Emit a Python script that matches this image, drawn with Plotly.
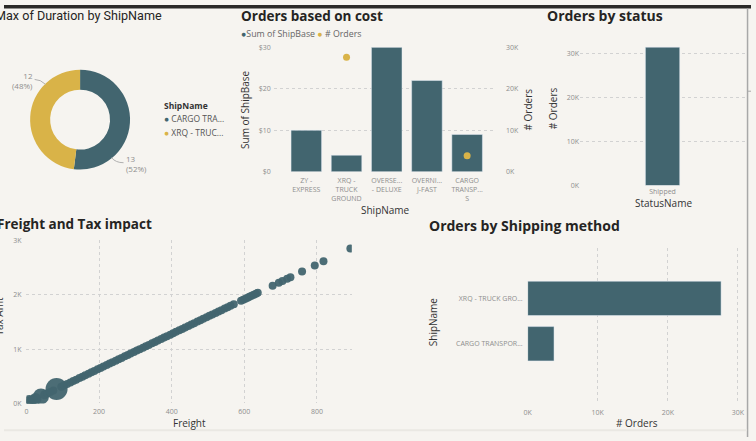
import plotly.graph_objects as go

# ---------------- data ----------------
donut_names = ["CARGO TRANSPORT 5", "XRQ - TRUCK GROUND"]
donut_legend = ["CARGO TRA...", "XRQ - TRUC..."]
donut_values = [13, 12]
donut_share = ["52%", "48%"]

cost_names = ["ZY - EXPRESS", "XRQ - TRUCK GROUND", "OVERSEAS - DELUXE", "OVERNIGHT J-FAST", "CARGO TRANSPORT 5"]
cost_ticks = ["ZY -<br>EXPRESS", "XRQ -<br>TRUCK<br>GROUND", "OVERSE...<br>- DELUXE", "OVERNI...<br>J-FAST", "CARGO<br>TRANSP...<br>S"]
shipbase = [10, 4, 30, 22, 9]
cost_orders = [None, 27600, None, None, 3860]
dollar_vals = [0, 10, 20, 30]
dollar_text = ["$0", "$10", "$20", "$30"]

status_names = ["Shipped"]
status_orders = [31460]

freight = [3, 8, 13, 19, 25, 40, 50, 58, 66, 74, 83, 96, 104, 112, 121, 129, 137, 146, 154, 162,
           171, 179, 187, 196, 204, 212, 221, 229, 237, 246, 254, 262, 271, 279, 287, 296, 304,
           312, 321, 329, 337, 346, 354, 362, 371, 379, 387, 396, 404, 412, 421, 429, 437, 446,
           454, 462, 471, 479, 487, 496, 504, 512, 521, 529, 537, 546, 554, 562, 571, 591, 597,
           603, 609, 614, 620, 626, 632, 637, 678, 695, 705, 718, 727, 759, 794, 818, 892]
tax_amt = [10, 26, 42, 61, 80, 128, 160, 186, 211, 237, 266, 307, 333, 358, 387, 413, 438, 467, 493, 518,
           547, 573, 598, 627, 653, 678, 707, 733, 758, 787, 813, 838, 867, 893, 918, 947, 973,
           998, 1027, 1053, 1078, 1107, 1133, 1158, 1187, 1213, 1238, 1267, 1293, 1318, 1347, 1373, 1398, 1427,
           1453, 1478, 1507, 1533, 1558, 1587, 1613, 1638, 1667, 1693, 1718, 1747, 1773, 1798, 1827, 1891, 1910,
           1930, 1949, 1965, 1984, 2003, 2022, 2038, 2170, 2224, 2256, 2298, 2326, 2429, 2541, 2618, 2854]
bubble_size = [12, 14, 10, 10, 12, 16, 9, 8, 8, 8, 22] + [8] * 76

method_names = ["CARGO TRANSPORT 5", "XRQ - TRUCK GROUND"]
method_ticks = ["CARGO TRANSPOR...", "XRQ - TRUCK GRO..."]
method_orders = [3760, 27600]

k_vals = [0, 10000, 20000, 30000]
k_text = ["0K", "10K", "20K", "30K"]

# ---------------- style ----------------
W, H = 756, 441
BG = "#F6F4F0"
TEAL = "#42656F"
GOLD = "#D9B348"
TICK = "#8E8E8E"
DARK = "#252423"
FONT = "Open Sans"
GRID = "#D2D2D2"


def fx(p):
    return p / W


def fy(p):
    return 1 - p / H


fig = go.Figure()

# donut
fig.add_trace(go.Pie(labels=donut_names, values=donut_values, hole=0.6, sort=False,
                     direction="clockwise", rotation=0, textinfo="none",
                     marker=dict(colors=[TEAL, GOLD]), hoverinfo="label+value",
                     domain=dict(x=[fx(26), fx(128)], y=[fy(168), fy(66)])))

# orders based on cost
fig.add_trace(go.Bar(x=cost_names, y=shipbase, marker_color=TEAL, width=0.76,
                     xaxis="x", yaxis="y", name="Sum of ShipBase"))
fig.add_trace(go.Scatter(x=cost_names, y=cost_orders, mode="markers",
                         marker=dict(color=GOLD, size=7), xaxis="x", yaxis="y2", name="# Orders"))

# orders by status
fig.add_trace(go.Bar(x=status_names, y=status_orders, marker_color=TEAL, width=0.208,
                     xaxis="x3", yaxis="y3"))

# scatter
fig.add_trace(go.Scatter(x=freight, y=tax_amt, mode="markers",
                         marker=dict(color=TEAL, size=bubble_size, opacity=0.95, line=dict(width=0)),
                         xaxis="x4", yaxis="y4"))

# shipping method
fig.add_trace(go.Bar(y=method_names, x=method_orders, orientation="h", marker_color=TEAL,
                     width=0.756, xaxis="x5", yaxis="y5"))

tickfont = dict(family=FONT, size=7, color=TICK)
grid = dict(showgrid=True, gridcolor=GRID, griddash="dot", gridwidth=1, zeroline=False,
            showline=False, ticks="", tickfont=tickfont)

fig.update_layout(
    width=W, height=H, margin=dict(l=0, r=0, t=0, b=0),
    paper_bgcolor=BG, plot_bgcolor=BG, showlegend=False,
    font=dict(family=FONT),
    xaxis=dict(domain=[fx(273), fx(498)], range=[-0.81, 4.72], tickvals=cost_names,
               ticktext=cost_ticks, showgrid=False, zeroline=False, ticks="", tickfont=tickfont,
               anchor="y", ticklabelstandoff=3),
    yaxis=dict(domain=[fy(170.3), fy(43.2)], range=[0, 30], tickvals=dollar_vals,
               ticktext=dollar_text, anchor="x", ticklabelstandoff=2, **grid),
    yaxis2=dict(overlaying="y", side="right", anchor="x", range=[0, 30000], tickvals=k_vals,
                ticktext=k_text, showgrid=False, zeroline=False, ticks="", tickfont=tickfont,
                ticklabelstandoff=9),
    xaxis3=dict(domain=[fx(583), fx(750)], range=[-0.5, 0.5], showgrid=False, zeroline=False,
                ticks="", tickfont=tickfont, anchor="y3"),
    yaxis3=dict(domain=[fy(184.3), fy(40)], range=[0, 32140], tickvals=k_vals, ticktext=k_text,
                anchor="x3", ticklabelstandoff=0, **grid),
    xaxis4=dict(domain=[fx(22.7), fx(352)], range=[0, 896], tickvals=[0, 200, 400, 600, 800],
                anchor="y4", ticklabelstandoff=3, **grid),
    yaxis4=dict(domain=[fy(406.7), fy(240)], range=[0, 3009], tickvals=[0, 1000, 2000, 3000],
                ticktext=["0K", "1K", "2K", "3K"], anchor="x4", ticklabelstandoff=4, **grid),
    xaxis5=dict(domain=[fx(530), fx(745)], range=[0, 30320], tickvals=k_vals, ticktext=k_text,
                anchor="y5", ticklabelstandoff=6, **grid),
    yaxis5=dict(domain=[fy(404), fy(248)], range=[-1.257, 2.112], tickvals=method_names,
                ticktext=method_ticks, showgrid=False, zeroline=False, ticks="",
                tickfont=tickfont, anchor="x5", ticklabelstandoff=4),
)


def ann(text, x, y, size, color=DARK, xanchor="center", angle=0, family=FONT, align="center"):
    fig.add_annotation(text=text, x=fx(x), y=fy(y), xref="paper", yref="paper",
                       xanchor=xanchor, yanchor="middle", showarrow=False, textangle=angle,
                       align=align, borderpad=0, font=dict(family=family, size=size, color=color))


# titles
ann("Max of Duration by ShipName", -10, 11, 12.6, xanchor="left", family="Roboto")
ann("<b>Orders based on cost</b>", 239, 11, 13.5, xanchor="left")
ann("<b>Orders by status</b>", 549, 11, 14, xanchor="left")
ann("<b>Freight and Tax impact</b>", -8, 224, 13.5, xanchor="left")
ann("<b>Orders by Shipping method</b>", 429, 225, 14, xanchor="left")

# donut labels
ann("%d<br>(%s)" % (donut_values[1], donut_share[1]), 30, 77, 8, TICK, xanchor="right", align="right")
ann("%d<br>(%s)" % (donut_values[0], donut_share[0]), 122, 162, 8, TICK, xanchor="left", align="left")
for path in ["M %f %f Q %f %f %f %f" % (fx(31), fy(76), fx(37), fy(76), fx(42), fy(81)),
             "M %f %f Q %f %f %f %f" % (fx(109), fy(156), fx(113), fy(161), fx(121), fy(161))]:
    fig.add_shape(type="path", path=path, xref="paper", yref="paper",
                  line=dict(color="#B0B0B0", width=1))

# donut legend
ann("<b>ShipName</b>", 161, 103, 8.5, "#333333", xanchor="left")
ann("<span style='color:%s'>●</span> %s" % (TEAL, donut_legend[0]), 161, 116, 8.5, "#555555", xanchor="left")
ann("<span style='color:%s'>●</span> %s" % (GOLD, donut_legend[1]), 161, 130, 8.5, "#555555", xanchor="left")

# cost legend
ann("<span style='color:%s'>●</span>Sum of ShipBase <span style='color:%s'>●</span> # Orders" % (TEAL, GOLD),
    239, 30, 8.8, "#666666", xanchor="left")

# axis titles
ann("Sum of ShipBase", 244, 107, 10, "#333333", angle=-90)
ann("# Orders", 530, 107, 10, "#333333", angle=-90)
ann("ShipName", 386, 209, 10, "#333333")
ann("# Orders", 555, 105, 10, "#333333", angle=-90)
ann("StatusName", 667, 202, 10, "#333333")
ann("Tax Amt", -6, 318, 10, "#333333", angle=-90)
ann("Freight", 188, 427, 10, "#333333")
ann("ShipName", 435, 323, 10, "#333333", angle=-90)
ann("# Orders", 641, 427, 10, "#333333")

# frame pieces
fig.add_shape(type="rect", x0=0, x1=1, y0=fy(3.5), y1=1, xref="paper", yref="paper",
              fillcolor="#2B2A28", line=dict(width=0))
fig.add_shape(type="line", x0=fx(752.5), x1=fx(752.5), y0=0, y1=fy(3.5), xref="paper", yref="paper",
              line=dict(color="#A8A8A8", width=1.5))
fig.add_shape(type="line", x0=fx(753), x1=1, y0=fy(88), y1=fy(88), xref="paper", yref="paper",
              line=dict(color="#A8A8A8", width=1))
fig.add_shape(type="line", x0=0, x1=fx(752), y0=fy(434), y1=fy(434), xref="paper", yref="paper",
              line=dict(color="#EAE8E3", width=2))

fig.write_html("out.html")
